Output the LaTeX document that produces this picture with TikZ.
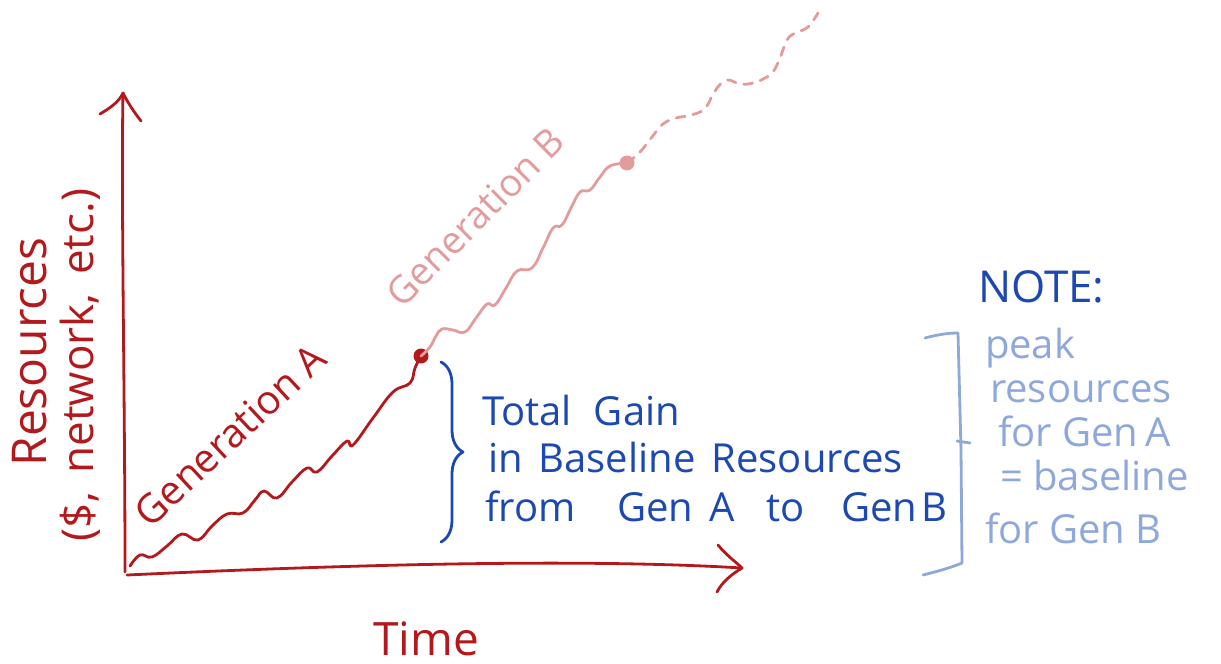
\documentclass[tikz,border=0pt]{standalone}
\usepackage{fontspec}
\setmainfont{Open Sans}
\usetikzlibrary{decorations.pathreplacing}
\definecolor{penred}{HTML}{B3191C}
\definecolor{penpink}{HTML}{E39C9C}
\definecolor{penblue}{HTML}{1C48B2}
\definecolor{penlight}{HTML}{8FA8DC}
\begin{document}
\begin{tikzpicture}[x=1pt,y=-1pt,line cap=round,line join=round,
  pen/.style={line width=2.8pt},
  lbl/.style={inner sep=0pt,outer sep=0pt},
  dotmark/.style={circle,inner sep=0pt}]
\useasboundingbox (0,0) rectangle (1221,664);

% axes
\coordinate (O) at (125,572);
\coordinate (ytip) at (123,93);
\coordinate (xtip) at (742,568);
\draw[penred,pen] (O) .. controls (125,400) and (121,200) .. (ytip);
\draw[penred,pen] (100,114) .. controls (110,108) and (119,102) .. (ytip) .. controls (128,103) and (134,112) .. (141,121);
\draw[penred,pen] (127,575) .. controls (300,567) and (560,557) .. (xtip);
\draw[penred,pen] (718,545) .. controls (726,555) and (736,562) .. (xtip) .. controls (732,574) and (722,582) .. (717,592);

% axis labels
\node[lbl,text=penred,rotate=90,font=\fontsize{48}{56}\selectfont] (yl1) at (30,352) {Resources};
\node[lbl,text=penred,rotate=90,font=\fontsize{44}{52}\selectfont] (yl2) at (80,365) {(\$,\, network,\, etc.)};
\node[lbl,text=penred,anchor=base,font=\fontsize{46}{54}\selectfont] (xl) at (426,655) {Time};

% Generation A
\node[dotmark,fill=penred,minimum size=15pt] (dotA) at (421,356) {};
\draw[penred,pen] plot[smooth,tension=0.7] coordinates {(130,566) (140,555) (152,557) (167,546) (182,534) (198,540) (212,526) (227,514) (243,513) (255,500) (264,491) (277,498) (292,482) (307,468) (317,472) (332,456) (347,441) (353,445) (373,418) (393,392) (410,383) (415,368) (dotA)};
\node[lbl,text=penred,rotate=43,font=\fontsize{40}{46}\selectfont] (genA) at (230,435) {Generation A};

% Generation B
\node[dotmark,fill=penpink,minimum size=15pt] (dotB) at (627,163) {};
\draw[penpink,pen] plot[smooth,tension=0.7] coordinates {(dotA) (430,347) (436,336) (442,329) (453,330) (465,332) (476,318) (487,304) (495,305) (506,288) (517,271) (532,268) (543,248) (553,228) (562,225) (571,208) (580,192) (590,190) (600,177) (610,166) (dotB)};
\draw[penpink,pen,dash pattern=on 9pt off 8pt] plot[smooth,tension=0.7] coordinates {(dotB) (640,152) (652,137) (663,124) (676,118) (687,116) (700,112) (707,106) (712,96) (717,88) (727,80) (740,84) (753,83) (765,78) (773,72) (780,58) (787,40) (795,33) (803,30) (810,25) (818,13)};
\node[lbl,text=penpink,rotate=45,font=\fontsize{38}{44}\selectfont] (genB) at (475,217) {Generation B};

% brace and gain text
\draw[penblue,pen,decorate,decoration={brace,amplitude=22pt}] (441,362) -- (441,542);
\node[lbl,text=penblue,anchor=base west,font=\fontsize{40}{46}\selectfont] (g1) at (482,425) {Total\hspace{22pt}Gain};
\node[lbl,text=penblue,anchor=base west,font=\fontsize{40}{46}\selectfont] (g2) at (488,472) {in\hspace{16pt}Baseline\hspace{16pt}Resources};
\node[lbl,text=penblue,anchor=base west,font=\fontsize{40}{46}\selectfont] (g3) at (485,521) {from\hspace{42pt}Gen\hspace{16pt}A\hspace{32pt}to\hspace{36pt}Gen\hspace{4pt}B};

% note
\node[lbl,text=penblue,anchor=base west,font=\fontsize{44}{52}\selectfont] (note) at (978,302) {NOTE:};
\draw[penlight,pen] (925,338) .. controls (940,334) and (950,333) .. (958,333) -- (961,450) -- (962,563) .. controls (950,568) and (935,572) .. (923,575);
\draw[penlight,pen] (957,441) -- (970,443);
\node[lbl,text=penlight,anchor=base west,font=\fontsize{40}{46}\selectfont] (n1) at (985,358) {peak};
\node[lbl,text=penlight,anchor=base west,font=\fontsize{40}{46}\selectfont] (n2) at (990,402) {resources};
\node[lbl,text=penlight,anchor=base west,font=\fontsize{40}{46}\selectfont] (n3) at (998,446) {for Gen\,A};
\node[lbl,text=penlight,anchor=base west,font=\fontsize{40}{46}\selectfont] (n4) at (1000,490) {= baseline};
\node[lbl,text=penlight,anchor=base west,font=\fontsize{40}{46}\selectfont] (n5) at (985,543) {for Gen B};
\end{tikzpicture}
\end{document}
